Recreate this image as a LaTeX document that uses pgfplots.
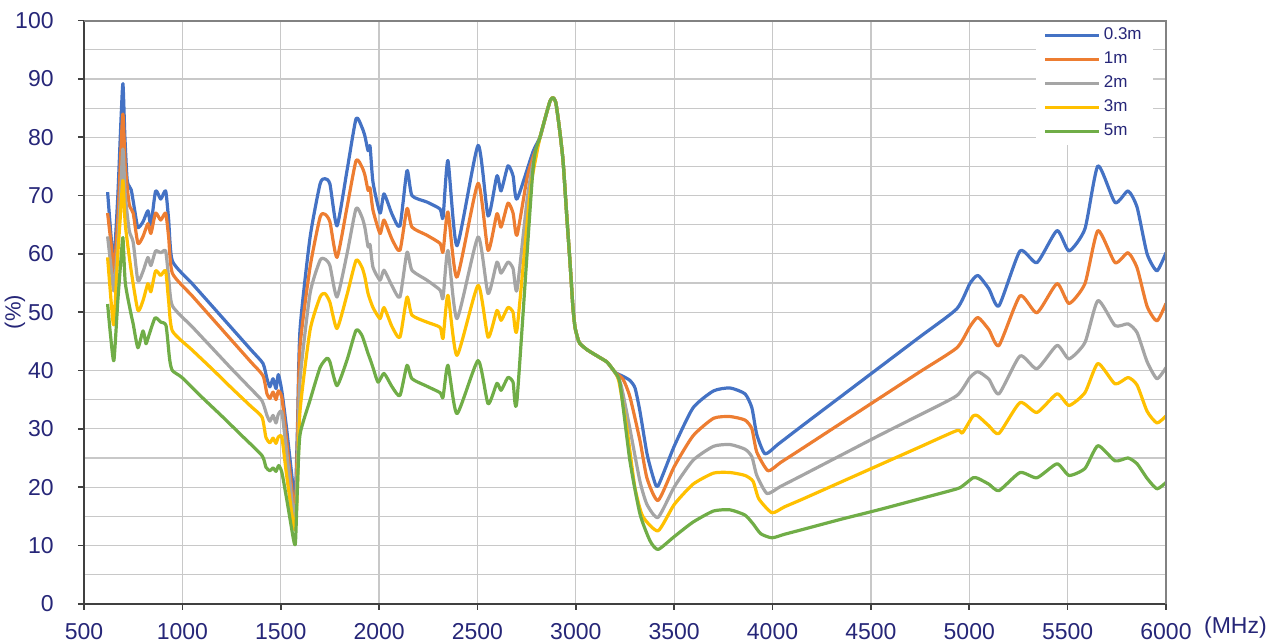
\documentclass[border=0pt]{standalone}
\usepackage{fontspec}
\setmainfont{Liberation Sans}
\usepackage{pgfplots}
\pgfplotsset{compat=1.18}
\definecolor{txt}{RGB}{38,38,120}
\definecolor{gridc}{RGB}{200,200,200}
\definecolor{axc}{RGB}{64,64,64}
\definecolor{bordc}{RGB}{130,130,130}
\definecolor{c03}{RGB}{68,114,196}
\definecolor{c1}{RGB}{237,125,49}
\definecolor{c2}{RGB}{165,165,165}
\definecolor{c3}{RGB}{255,192,0}
\definecolor{c5}{RGB}{112,173,71}
\begin{document}
\begin{tikzpicture}
\path[use as bounding box] (-42pt,-20pt) rectangle (593pt,301.85pt);
\begin{axis}[
  name=ax,
  scale only axis, width=541pt, height=291.5pt,
  xmin=500, xmax=6000, ymin=0, ymax=100,
  xtick={500,1000,...,6000}, ytick={0,10,...,100}, minor ytick={5,15,...,95},
  grid=both,
  major grid style={draw=gridc, line width=0.6pt},
  minor grid style={draw=gridc, line width=0.6pt},
  axis x line*=bottom, axis y line*=left,
  axis line style={draw=axc, line width=1.1pt, -},
  tick align=outside, major tick length=3pt, minor tick length=0pt,
  tick style={draw=axc, line width=0.8pt},
  scaled ticks=false,
  xticklabel={\pgfmathprintnumber[fixed,precision=0,1000 sep={}]{\tick}},
  tick label style={font=\fontsize{11.5}{12}\selectfont, text=txt},
  /pgf/number format/assume math mode=true,
  xticklabel style={anchor=base, inner sep=0pt, yshift=-15pt},
  yticklabel style={anchor=east, inner sep=0pt, xshift=-12pt},
  ylabel={(\%)},
  ylabel style={at={(axis description cs:-0.0638,0.5)}, anchor=center, font=\fontsize{11}{12}\selectfont, text=txt},
  xlabel={(MHz)},
  xlabel style={at={(axis description cs:1.0287,-0.0515)}, anchor=base west, font=\fontsize{11.5}{12}\selectfont, text=txt},
  legend cell align=left,
  legend image code/.code={\draw[#1, line width=1.5pt, sharp plot] (0pt,0pt) -- (27pt,0pt);},
  legend style={at={(axis description cs:0.988,1)}, anchor=north east, draw=none, fill=white,
    font=\fontsize{8.5}{9}\selectfont, text=txt, inner xsep=4pt, inner ysep=1pt, row sep=0pt,
    nodes={inner ysep=2pt, inner xsep=1.5pt, text height=6pt, text depth=2pt}},
  every axis plot/.append style={line width=1.6pt, line join=round, smooth, tension=0.35},
]
% 0.3 m
\addplot[c03] coordinates {
(620,70.6) (640,62) (652,58.5) (672,70) (688,83) (698,89.2) (708,80) (720,72.5) (740,71) (760,67) (774,64.5) (800,65.5) (825,67.4) (840,65) (864,70.8) (890,69.4) (915,70.8) (930,66) (949,58.8) (1050,54.9) (1150,51.1) (1250,47.3) (1350,43.5) (1410,41.2) (1430,38.6) (1445,37.2) (1461,38.6) (1476,36.9) (1488,39.3) (1506,36.4) (1530,30) (1565,19.5) (1575,18.8) (1585,30) (1598,47) (1649,62.8) (1700,72) (1725,72.9) (1750,72) (1786,64.8) (1837,74.3) (1883,83.2) (1913,81.7) (1928,80.2) (1944,77.7) (1954,78.5) (1969,72.3) (2005,67) (2025,70.3) (2066,66.8) (2106,64.8) (2142,74.3) (2167,70) (2243,68.9) (2310,67.7) (2325,66.2) (2350,76) (2396,61.4) (2503,78.6) (2554,66.5) (2599,73.4) (2620,70.8) (2655,75.1) (2681,73.4) (2701,69.4) (2782,77.5) (2818,80) (2850,84) (2870,86.3) (2884,86.8) (2898,86) (2915,82) (2935,76) (2955,66) (2970,58.8) (2985,51) (2996,47.4) (3010,45.5) (3021,44.6) (3060,43.5) (3123,42.2) (3160,41.4) (3199,39.7) (3240,39) (3275,38.3) (3301,37) (3326,33) (3362,25.7) (3395,21.5) (3418,20.2) (3500,27) (3596,33.6) (3700,36.5) (3784,37) (3860,36) (3895,33.6) (3920,29) (3962,25.7) (4030,27.4) (4150,30.5) (4350,35.6) (4550,40.7) (4750,45.8) (4937,50.6) (5003,54.9) (5044,56.3) (5100,54) (5151,51.1) (5258,60.5) (5344,58.5) (5446,64) (5507,60.5) (5588,64.3) (5654,75.1) (5741,68.8) (5807,70.8) (5853,68) (5904,60) (5954,57.1) (6000,60.2)
};
% 1 m
\addplot[c1] coordinates {
(620,67) (640,61) (652,56.7) (672,66) (688,78) (698,84) (710,75) (730,68.5) (750,67) (774,61.8) (800,63) (825,65.2) (840,63.5) (864,67) (890,65.8) (915,67) (930,63) (949,56.7) (1050,52.8) (1150,49) (1250,45.2) (1350,41.4) (1410,39.1) (1430,36) (1445,35.2) (1461,36.3) (1476,35) (1488,36.5) (1506,35.3) (1530,28) (1565,17) (1575,16.3) (1585,28) (1598,44) (1649,57.7) (1700,66.3) (1725,66.8) (1750,65.5) (1786,59.4) (1837,68) (1883,76) (1913,74.9) (1928,73.5) (1944,70.9) (1954,71.3) (1969,67.5) (2005,63.5) (2025,65.8) (2066,62.5) (2106,60.6) (2142,67.8) (2167,64.6) (2243,63.2) (2310,61.8) (2325,60.3) (2350,67.2) (2396,56) (2503,72.1) (2554,60.6) (2599,66.9) (2620,64.6) (2655,68.7) (2681,67) (2701,63.2) (2752,73) (2782,76.5) (2818,80) (2850,84) (2870,86.3) (2884,86.8) (2898,86) (2915,82) (2935,76) (2955,66) (2970,58.8) (2985,51) (2996,47.4) (3010,45.5) (3021,44.6) (3060,43.5) (3123,42.2) (3160,41.4) (3199,39.7) (3240,38.5) (3275,35.5) (3326,28) (3362,21.5) (3418,17.7) (3500,23.5) (3596,28.8) (3700,31.8) (3784,32.1) (3860,31.5) (3895,30) (3920,26) (3977,22.8) (4040,24.2) (4150,26.6) (4350,31) (4550,35.4) (4750,39.8) (4937,43.9) (5003,47.5) (5044,49.1) (5100,47) (5151,44.3) (5258,52.8) (5344,49.9) (5446,54.9) (5507,51.5) (5588,54.9) (5654,64) (5741,58.5) (5807,60.2) (5853,57.6) (5904,51) (5954,48.5) (6000,51.5)
};
% 2 m
\addplot[c2] coordinates {
(620,63) (640,57) (652,53.7) (672,62) (688,72) (698,78) (710,70) (730,64) (750,62) (774,55.4) (800,57) (825,59.4) (840,58) (864,60.5) (890,60.2) (915,60.5) (930,56) (949,51.1) (1050,47.5) (1150,43.9) (1250,40.3) (1350,36.8) (1405,34.8) (1430,32.3) (1445,31.3) (1461,32.3) (1476,31) (1488,32.5) (1506,32.8) (1530,26) (1565,15.3) (1575,14.8) (1585,24) (1598,38.3) (1649,53.2) (1700,58.9) (1725,59.1) (1750,58) (1786,52.6) (1837,60) (1883,67.8) (1913,66.3) (1928,64.5) (1944,61.2) (1954,61.6) (1969,57.7) (2005,55.5) (2025,57.2) (2066,54.5) (2106,52.6) (2142,60.3) (2167,57.2) (2243,55.5) (2310,53.8) (2325,52.4) (2350,60.6) (2396,48.9) (2503,62.9) (2554,53.2) (2599,58.6) (2620,56.7) (2655,58.6) (2681,57.5) (2701,53.8) (2752,69.2) (2782,75.5) (2818,80) (2850,84) (2870,86.3) (2884,86.8) (2898,86) (2915,82) (2935,76) (2955,66) (2970,58.8) (2985,51) (2996,47.4) (3010,45.5) (3021,44.6) (3060,43.5) (3123,42.2) (3160,41.4) (3199,39.7) (3230,37.5) (3275,30) (3326,21) (3362,17) (3418,14.8) (3500,20) (3596,24.6) (3700,27) (3784,27.3) (3860,26.5) (3895,25.2) (3920,22) (3972,18.9) (4040,20.1) (4150,22) (4350,25.5) (4550,29) (4750,32.4) (4937,35.7) (5003,38.8) (5044,39.8) (5100,38.5) (5151,36) (5258,42.5) (5344,40.3) (5446,44.3) (5507,42) (5588,44.8) (5654,52) (5741,47.7) (5807,48) (5853,46.5) (5904,41.5) (5954,38.6) (6000,40.5)
};
% 3 m
\addplot[c3] coordinates {
(620,59.4) (640,51) (652,48) (672,60) (688,68) (698,72.6) (710,65) (740,57.1) (774,50.3) (800,52) (825,54.9) (840,53.5) (864,57.1) (890,56.3) (915,57.1) (930,52) (949,46.8) (1050,43.5) (1150,40.3) (1250,37) (1350,33.8) (1405,32) (1425,28.5) (1445,27.6) (1461,28.4) (1476,27.5) (1488,28.6) (1506,28.5) (1530,22) (1565,13.5) (1575,13) (1585,20) (1598,33) (1649,46.9) (1700,52.6) (1725,53.2) (1750,51.7) (1786,47.2) (1837,53) (1883,58.9) (1913,57.7) (1928,56) (1944,53.2) (1969,50.8) (2005,48.9) (2025,50.8) (2066,47.5) (2106,45.7) (2142,52.6) (2167,49.5) (2243,48.3) (2310,47.4) (2325,45.5) (2350,52.9) (2396,42.6) (2503,54.6) (2554,45.7) (2599,50.3) (2620,48.6) (2655,50.8) (2681,50) (2701,47) (2767,70.4) (2800,77) (2818,80) (2850,84) (2870,86.3) (2884,86.8) (2898,86) (2915,82) (2935,76) (2955,66) (2970,58.8) (2985,51) (2996,47.4) (3010,45.5) (3021,44.6) (3060,43.5) (3123,42.2) (3160,41.4) (3199,39.7) (3220,38) (3260,30) (3300,20) (3340,15) (3418,12.5) (3500,17) (3596,20.5) (3700,22.4) (3784,22.5) (3860,22) (3901,21) (3930,18) (3997,15.6) (4060,16.6) (4150,17.9) (4350,20.9) (4550,23.9) (4750,26.9) (4937,29.7) (4965,29.3) (5019,32.2) (5044,32.2) (5100,30.5) (5151,29.2) (5258,34.5) (5344,32.8) (5446,36) (5507,34) (5588,36.2) (5654,41.2) (5741,37.7) (5807,38.8) (5853,37.5) (5904,33) (5954,31) (6000,32.2)
};
% 5 m
\addplot[c5] coordinates {
(620,51.4) (635,46) (652,41.7) (672,52) (690,60) (698,62.8) (710,55) (739,49.7) (750,48) (774,43.9) (800,46.8) (815,44.6) (825,45.5) (861,49) (890,48.3) (917,47.7) (935,42) (949,40) (998,38.8) (1100,35.4) (1200,32.2) (1300,28.9) (1405,25.4) (1425,23.4) (1445,22.8) (1461,23.3) (1476,22.7) (1490,23.7) (1506,22.5) (1530,18) (1565,11) (1575,10.5) (1585,20) (1598,29) (1649,34.9) (1700,40.5) (1735,42.1) (1750,41.5) (1786,37.4) (1837,41.8) (1883,46.9) (1913,46) (1944,42.9) (1954,42) (1969,40.5) (1995,38) (2025,39.5) (2066,37.2) (2106,35.7) (2142,40.9) (2167,38.6) (2243,37.3) (2310,36.2) (2325,35.4) (2350,40.9) (2396,32.6) (2503,41.7) (2554,34.3) (2599,37.8) (2620,36.6) (2655,38.8) (2681,38) (2701,34.9) (2782,74.4) (2818,80) (2850,84) (2870,86.3) (2884,86.8) (2898,86) (2915,82) (2935,76) (2955,66) (2970,58.8) (2985,51) (2996,47.4) (3010,45.5) (3021,44.6) (3060,43.5) (3123,42.2) (3160,41.4) (3199,39.7) (3225,37.7) (3275,24.5) (3326,15.4) (3377,10.8) (3418,9.3) (3500,11.5) (3596,14) (3700,15.9) (3784,16.1) (3860,15.2) (3901,13.7) (3940,12) (3997,11.3) (4060,11.9) (4150,12.7) (4350,14.5) (4550,16.2) (4750,18) (4937,19.7) (4970,20.3) (5019,21.6) (5044,21.5) (5100,20.5) (5151,19.4) (5258,22.5) (5344,21.6) (5446,24) (5507,22) (5588,23.2) (5654,27.1) (5741,24.5) (5807,25) (5853,24) (5904,21.5) (5954,19.7) (6000,20.8)
};
\legend{0.3m,1m,2m,3m,5m}
\end{axis}
\draw[bordc, line width=0.9pt] (ax.north west) -- (ax.north east) -- (ax.south east);
\end{tikzpicture}
\end{document}
